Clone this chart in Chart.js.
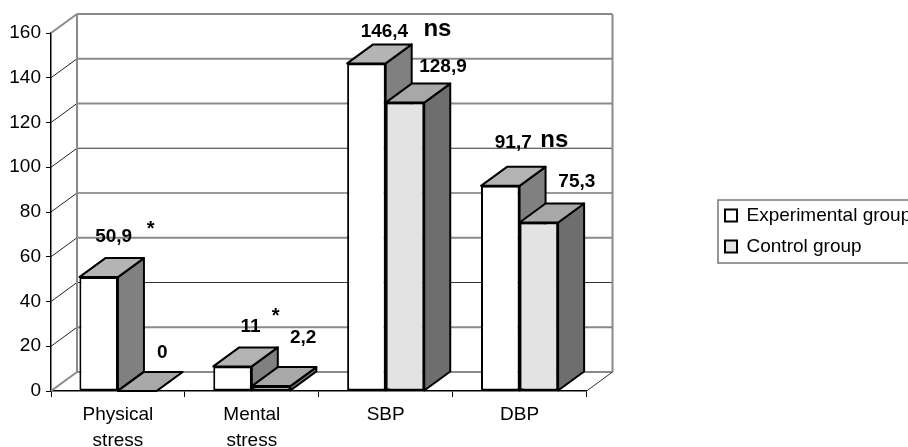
<!DOCTYPE html>
<html>
<head>
<meta charset="utf-8">
<title>Stress and blood pressure</title>
<script src="https://cdn.jsdelivr.net/npm/chart.js@4"></script>
<style>
  html, body { margin: 0; padding: 0; background: #fff; }
  canvas { display: block; }
</style>
</head>
<body>
<canvas id="stressChart" width="908" height="447"></canvas>
<script>
const categories = [['Physical', 'stress'], ['Mental', 'stress'], 'SBP', 'DBP'];
const experimental = [50.9, 11, 146.4, 91.7];
const control = [0, 2.2, 128.9, 75.3];
const significance = ['*', '*', 'ns', 'ns'];
const yTicks = [0, 20, 40, 60, 80, 100, 120, 140, 160];

// fake 3D depth, same offset as the old spreadsheet look
const depthX = 26;
const depthY = -19;
const softGrid = [0, 20, 60, 120, 140, 160];

// label offsets from the front centre of each bar / back top edge
const labelNudge = [
  [[15, -21], [18, -21], [18, -13], [13, -24]],
  [[25, -19], [32, -29], [38, -17], [38, -22]]
];
const markNudge = [[52, -29], [43, -31], [71, -15], [54, -26]];

function line(ctx, x0, y0, x1, y1, color, width) {
  ctx.strokeStyle = color;
  ctx.lineWidth = width;
  ctx.beginPath();
  ctx.moveTo(x0, y0);
  ctx.lineTo(x1, y1);
  ctx.stroke();
}

function poly(ctx, pts, fill) {
  ctx.fillStyle = fill;
  ctx.strokeStyle = '#000';
  ctx.lineWidth = 2;
  ctx.lineJoin = 'round';
  ctx.beginPath();
  pts.forEach((p, i) => i ? ctx.lineTo(p[0], p[1]) : ctx.moveTo(p[0], p[1]));
  ctx.closePath();
  ctx.fill();
  ctx.stroke();
}

const depthPlugin = {
  id: 'depth',
  afterLayout(chart) {
    // legend sits lower than the plot centre, move it
    const legend = chart.legend;
    legend.left = 713;
    legend.right = 930;
    legend.width = 217;
    legend.top = 194;
    legend.bottom = 280;
    legend.height = 86;
  },
  beforeDatasetsDraw(chart) {
    const ctx = chart.ctx;
    const area = chart.chartArea;
    const y = chart.scales.y;
    ctx.save();
    // back wall + side wall lines
    yTicks.forEach(v => {
      const py = y.getPixelForValue(v);
      const soft = softGrid.includes(v);
      line(ctx, area.left + depthX, py + depthY, area.right + depthX, py + depthY,
        soft ? '#8a8a8a' : '#333', soft ? 2 : 1);
      line(ctx, area.left, py, area.left + depthX, py + depthY,
        (v === 0 || v === 160) ? '#8a8a8a' : '#222', (v === 0 || v === 160) ? 2 : 1);
    });
    line(ctx, area.left + depthX, area.top + depthY, area.left + depthX, area.bottom + depthY, '#8a8a8a', 2);
    line(ctx, area.right + depthX, area.top + depthY, area.right + depthX, area.bottom + depthY, '#8a8a8a', 2);
    line(ctx, area.right, area.bottom, area.right + depthX, area.bottom + depthY, '#333', 1);

    // extrusions, first series then second so the second overlaps
    const tops = ['#b4b4b4', '#a8a8a8'];
    const sides = ['#808080', '#6e6e6e'];
    [0, 1].forEach(ds => {
      chart.getDatasetMeta(ds).data.forEach(bar => {
        const x0 = bar.x - bar.width / 2;
        const x1 = bar.x + bar.width / 2;
        const yt = bar.y;
        const yb = bar.base;
        poly(ctx, [[x1, yt], [x1 + depthX, yt + depthY], [x1 + depthX, yb + depthY], [x1, yb]], sides[ds]);
        poly(ctx, [[x0, yt], [x0 + depthX, yt + depthY], [x1 + depthX, yt + depthY], [x1, yt]], tops[ds]);
      });
    });
    ctx.restore();
  },
  afterDraw(chart) {
    const ctx = chart.ctx;
    ctx.save();
    // legend frame runs off the canvas on the right
    ctx.strokeStyle = '#777';
    ctx.lineWidth = 1.5;
    ctx.strokeRect(718, 200, 200, 63);

    // value labels
    ctx.fillStyle = '#000';
    ctx.textAlign = 'center';
    ctx.textBaseline = 'middle';
    ctx.font = 'bold 19px "Liberation Sans"';
    chart.data.datasets.forEach((set, ds) => {
      chart.getDatasetMeta(ds).data.forEach((bar, i) => {
        const txt = String(set.data[i]).replace('.', ',');
        ctx.fillText(txt, bar.x + labelNudge[ds][i][0], bar.y + depthY + labelNudge[ds][i][1]);
      });
    });
    // significance marks
    significance.forEach((mark, i) => {
      const bar = chart.getDatasetMeta(0).data[i];
      ctx.font = (mark === 'ns' ? 'bold 24px' : 'bold 20px') + ' "Liberation Sans"';
      ctx.fillText(mark, bar.x + markNudge[i][0], bar.y + depthY + markNudge[i][1]);
    });
    ctx.restore();
  }
};

new Chart(document.getElementById('stressChart').getContext('2d'), {
  type: 'bar',
  data: {
    labels: categories,
    datasets: [
      {
        label: 'Experimental group',
        data: experimental,
        backgroundColor: '#ffffff',
        borderColor: '#000',
        borderWidth: 2,
        borderSkipped: false
      },
      {
        label: 'Control group',
        data: control,
        backgroundColor: '#e3e3e3',
        borderColor: '#000',
        borderWidth: 2,
        borderSkipped: false
      }
    ]
  },
  plugins: [depthPlugin],
  options: {
    responsive: false,
    animation: false,
    categoryPercentage: 0.576,
    barPercentage: 1,
    layout: { padding: { top: 33, right: 126, left: 0, bottom: 0 } },
    plugins: {
      tooltip: { enabled: false },
      legend: {
        display: true,
        position: 'right',
        align: 'start',
        labels: {
          boxWidth: 12,
          boxHeight: 12,
          padding: 12,
          color: '#000',
          font: { family: '"Liberation Sans"', size: 19 }
        }
      }
    },
    scales: {
      x: {
        afterFit(scale) { scale.height = 56; },
        grid: { drawOnChartArea: false, color: '#000', tickLength: 6 },
        border: { color: '#000', width: 1.5 },
        ticks: {
          color: '#000',
          padding: 4,
          maxRotation: 0,
          font: { family: '"Liberation Sans"', size: 19, lineHeight: 1.4 }
        }
      },
      y: {
        min: 0,
        max: 160,
        afterFit(scale) { scale.width = 51; },
        grid: { drawOnChartArea: false, color: '#000', tickLength: 5 },
        border: { color: '#000', width: 1.5 },
        ticks: {
          stepSize: 20,
          color: '#000',
          padding: 5,
          font: { family: '"Liberation Sans"', size: 19 }
        }
      }
    }
  }
});
</script>
</body>
</html>
